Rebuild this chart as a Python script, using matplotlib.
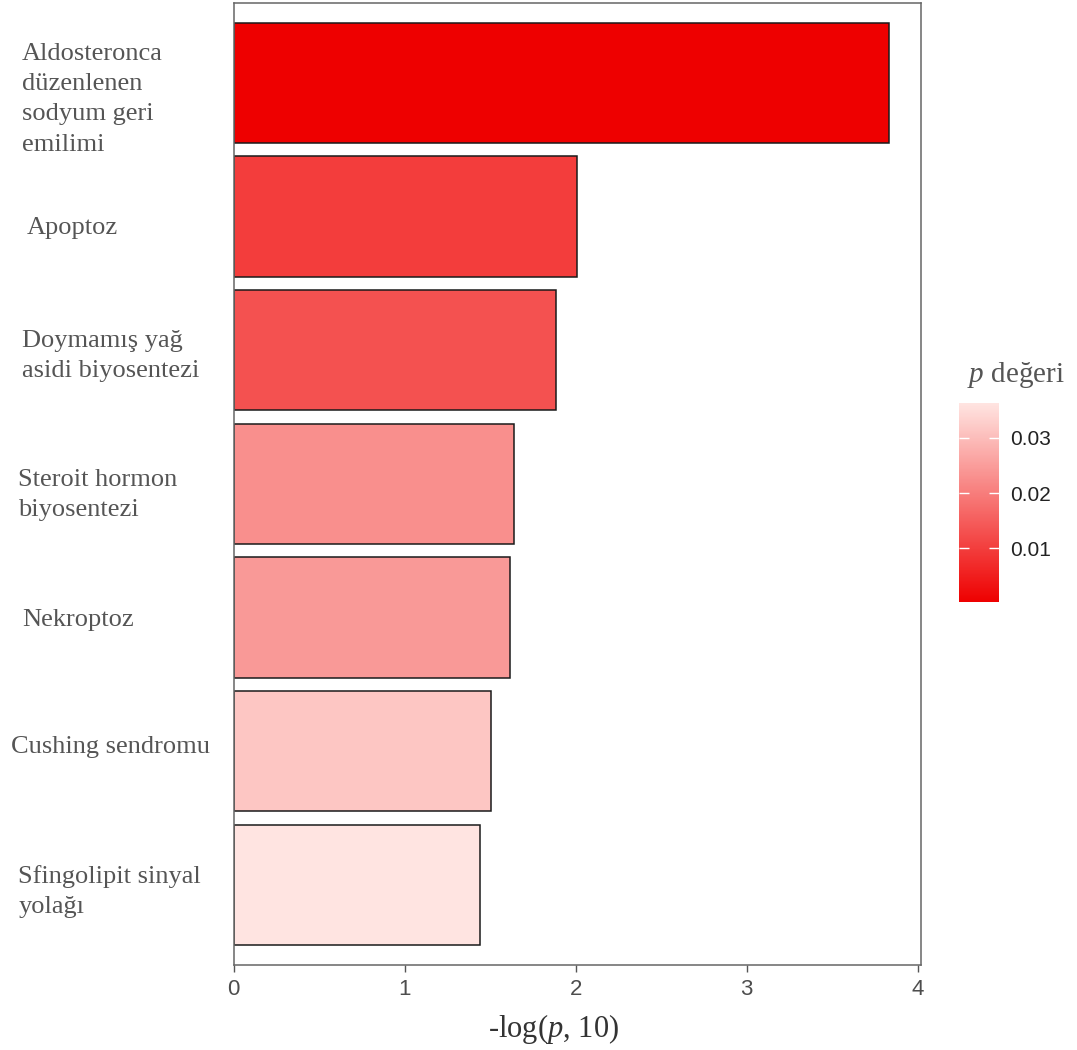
import numpy as np
import matplotlib
matplotlib.use("Agg")
import matplotlib.pyplot as plt
from matplotlib.colors import LinearSegmentedColormap, Normalize
from matplotlib.cm import ScalarMappable

# ---- data -------------------------------------------------------------
pathways = [
    "Aldosteronca\ndüzenlenen\nsodyum geri\nemilimi",
    "Apoptoz",
    "Doymamış yağ\nasidi biyosentezi",
    "Steroit hormon\nbiyosentezi",
    "Nekroptoz",
    "Cushing sendromu",
    "Sfingolipit sinyal\nyolağı",
]
p_values = [0.000147, 0.00977, 0.0130, 0.0228, 0.0243, 0.0314, 0.0363]
x_ticks = [0, 1, 2, 3, 4]
cbar_ticks = [0.01, 0.02, 0.03]

# ---- fonts ------------------------------------------------------------
plt.rcParams["mathtext.fontset"] = "custom"
plt.rcParams["mathtext.rm"] = "Liberation Serif"
plt.rcParams["mathtext.it"] = "Liberation Serif:italic"
SERIF = "Liberation Serif"
SANS = "Liberation Sans"

# ---- gradient colour scale --------------------------------------------
cmap = LinearSegmentedColormap.from_list("p_grad", ["#EE0000", "#FFE4E1"])
norm = Normalize(vmin=min(p_values), vmax=max(p_values))

# ---- figure -----------------------------------------------------------
W, H = 1077, 1050
fig = plt.figure(figsize=(W / 100, H / 100), dpi=100)


def fx(px):
    return px / W


def fy(py):
    return 1 - py / H


ax = fig.add_axes([fx(233.7), fy(965), (921 - 233.7) / W, (965 - 2.7) / H])

neg_log = -np.log10(np.array(p_values))
ypos = np.arange(len(pathways))[::-1] + 1
ax.barh(ypos, neg_log, height=0.9, color=cmap(norm(p_values)),
        edgecolor="#1a1a1a", linewidth=1.1, zorder=2)

ax.set_xlim(0, (921 - 233.7) / 171)
ax.set_ylim(0.4, len(pathways) + 0.6)
ax.set_yticks([])
ax.set_xticks(x_ticks)
ax.set_xticklabels([str(t) for t in x_ticks], fontfamily=SANS)
ax.tick_params(axis="x", length=5, width=1, color="#555555", labelsize=16,
               labelcolor="#4D4D4D", pad=5)
for s in ax.spines.values():
    s.set_color("#666666")
    s.set_linewidth(1.1)

# pathway names, one text per line from the first baseline down
label_anchor = [(22, 60), (26.7, 234.3), (22, 347), (18.3, 486),
                (22.3, 625.7), (11, 753.3), (18.3, 882.7)]
line_pitch = 30.2
for name, (lx, ly) in zip(pathways, label_anchor):
    for i, line in enumerate(name.split("\n")):
        fig.text(fx(lx), fy(ly + i * line_pitch), line, ha="left", va="baseline",
                 fontsize=19, family=SERIF, color="#555555")

# axis title
fig.text(fx(554), fy(1037), r"-log($\mathit{p}$, 10)", ha="center", va="baseline",
         fontsize=22, family=SERIF, color="#333333")

# colour bar
cax = fig.add_axes([fx(959), fy(602.3), 40 / W, 199 / H])
cb = fig.colorbar(ScalarMappable(norm=norm, cmap=cmap), cax=cax)
cb.outline.set_visible(False)
cb.set_ticks(cbar_ticks)
cb.set_ticklabels([f"{t:.2f}" for t in cbar_ticks])
cax.tick_params(direction="in", length=7, width=1, color="white", left=True,
                right=True, labelleft=False, labelright=True, labelsize=15,
                labelcolor="#222222", pad=8)
for lab in cax.get_yticklabels():
    lab.set_fontfamily(SANS)

fig.text(fx(966.7), fy(381.7), r"$\mathit{p}$ değeri", ha="left", va="baseline",
         fontsize=21, family=SERIF, color="#555555")

fig.savefig("out.png", dpi=100, facecolor="white")
